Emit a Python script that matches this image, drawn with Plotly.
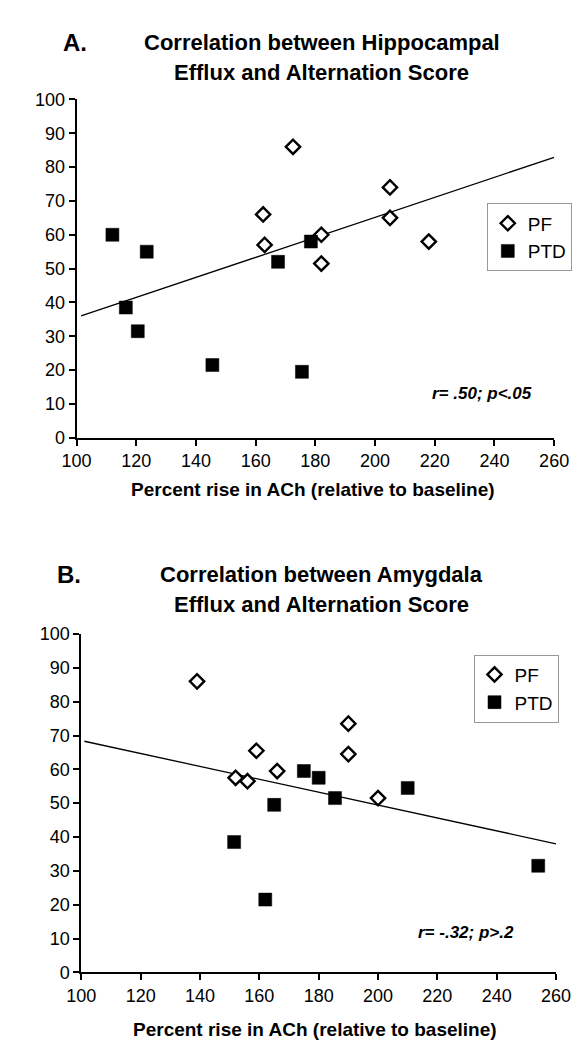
import plotly.graph_objects as go

# ---------------- data: panel A (hippocampus) ----------------
a_pf_x = [172.5, 162.5, 163.0, 182.0, 182.0, 205.0, 205.0, 218.0]
a_pf_y = [86.0, 66.0, 57.0, 60.0, 51.5, 74.0, 65.0, 58.0]
a_ptd_x = [112.0, 123.5, 167.5, 178.5, 116.5, 120.5, 145.5, 175.5]
a_ptd_y = [60.0, 55.0, 52.0, 58.0, 38.5, 31.5, 21.5, 19.5]
a_fit_x = [101.5, 260.0]
a_fit_y = [36.0, 82.9]

# ---------------- data: panel B (amygdala) ----------------
b_pf_x = [139.0, 159.0, 190.0, 190.0, 152.0, 156.0, 166.0, 200.0]
b_pf_y = [86.0, 65.5, 73.5, 64.5, 57.5, 56.5, 59.5, 51.5]
b_ptd_x = [175.0, 180.0, 165.0, 151.5, 162.0, 185.5, 210.0, 254.0]
b_ptd_y = [59.5, 57.5, 49.5, 38.5, 21.5, 51.5, 54.5, 31.5]
b_fit_x = [101.0, 260.0]
b_fit_y = [68.3, 38.0]

x_ticks = [100, 120, 140, 160, 180, 200, 220, 240, 260]
y_ticks = [0, 10, 20, 30, 40, 50, 60, 70, 80, 90, 100]

W, H = 582, 1045
FONT = "Liberation Sans, Arial, Helvetica, sans-serif"

def py(p):
    return 1 - p / H

def px(p):
    return p / W

fig = go.Figure()

pf_marker = dict(symbol="diamond", size=11, color="white",
                 line=dict(color="black", width=2.4))
ptd_marker = dict(symbol="square", size=13, color="black",
                  line=dict(color="black", width=0.5))

# Panel A
fig.add_trace(go.Scatter(x=a_fit_x, y=a_fit_y, mode="lines",
                         line=dict(color="black", width=1.3),
                         showlegend=False, xaxis="x", yaxis="y"))
fig.add_trace(go.Scatter(x=a_pf_x, y=a_pf_y, mode="markers", name="PF",
                         marker=pf_marker, xaxis="x", yaxis="y", legend="legend"))
fig.add_trace(go.Scatter(x=a_ptd_x, y=a_ptd_y, mode="markers", name="PTD",
                         marker=ptd_marker, xaxis="x", yaxis="y", legend="legend"))

# Panel B
fig.add_trace(go.Scatter(x=b_fit_x, y=b_fit_y, mode="lines",
                         line=dict(color="black", width=1.3),
                         showlegend=False, xaxis="x2", yaxis="y2"))
fig.add_trace(go.Scatter(x=b_pf_x, y=b_pf_y, mode="markers", name="PF",
                         marker=pf_marker, xaxis="x2", yaxis="y2", legend="legend2"))
fig.add_trace(go.Scatter(x=b_ptd_x, y=b_ptd_y, mode="markers", name="PTD",
                         marker=ptd_marker, xaxis="x2", yaxis="y2", legend="legend2"))

axis_common = dict(showline=True, linecolor="black", linewidth=2,
                   ticks="outside", ticklen=6, tickwidth=2, tickcolor="black",
                   showgrid=False, zeroline=False,
                   tickfont=dict(family=FONT, size=18, color="black"))

fig.update_layout(
    width=W, height=H,
    margin=dict(l=0, r=0, t=0, b=0),
    paper_bgcolor="white", plot_bgcolor="white",
    font=dict(family=FONT, color="black"),
    xaxis=dict(domain=[px(56.5), px(560)], range=[100, 260], tickvals=x_ticks,
               anchor="y", **axis_common),
    yaxis=dict(domain=[py(428), py(83)], range=[0, 100], tickvals=y_ticks,
               anchor="x", **axis_common),
    xaxis2=dict(domain=[px(61.5), px(562)], range=[100, 260], tickvals=x_ticks,
                anchor="y2", **axis_common),
    yaxis2=dict(domain=[py(973), py(628)], range=[0, 100], tickvals=y_ticks,
                anchor="x2", **axis_common),
    legend=dict(x=px(489), y=py(189), xanchor="left", yanchor="top",
                bgcolor="white", bordercolor="#999999", borderwidth=1,
                font=dict(family=FONT, size=19, color="black"),
                itemwidth=30, tracegroupgap=0),
    legend2=dict(x=px(475), y=py(649), xanchor="left", yanchor="top",
                 bgcolor="white", bordercolor="#999999", borderwidth=1,
                 font=dict(family=FONT, size=19, color="black"),
                 itemwidth=30, tracegroupgap=0),
)

def ann(text, x, y, size, bold=True, italic=False, xanchor="center"):
    t = text
    if italic:
        t = "<i>" + t + "</i>"
    if bold:
        t = "<b>" + t + "</b>"
    fig.add_annotation(text=t, x=px(x), y=py(y), xref="paper", yref="paper",
                       xanchor=xanchor, yanchor="middle", showarrow=False,
                       font=dict(family=FONT, size=size, color="black"))

# Panel A texts
ann("A.", 40, 25, 24, xanchor="left")
ann("Correlation between Hippocampal", 315, 25, 22)
ann("Efflux and Alternation Score", 315, 56, 22)
ann("r= .50; p<.05", 484, 383, 17, italic=True)
ann("Percent rise in ACh (relative to baseline)", 306, 481, 19)

# Panel B texts
ann("B.", 34, 567, 24, xanchor="left")
ann("Correlation between Amygdala", 315, 567, 22)
ann("Efflux and Alternation Score", 315, 598, 22)
ann("r= -.32; p>.2", 467, 932, 17, italic=True)
ann("Percent rise in ACh (relative to baseline)", 308, 1031, 19)

fig.write_html("out.html")
